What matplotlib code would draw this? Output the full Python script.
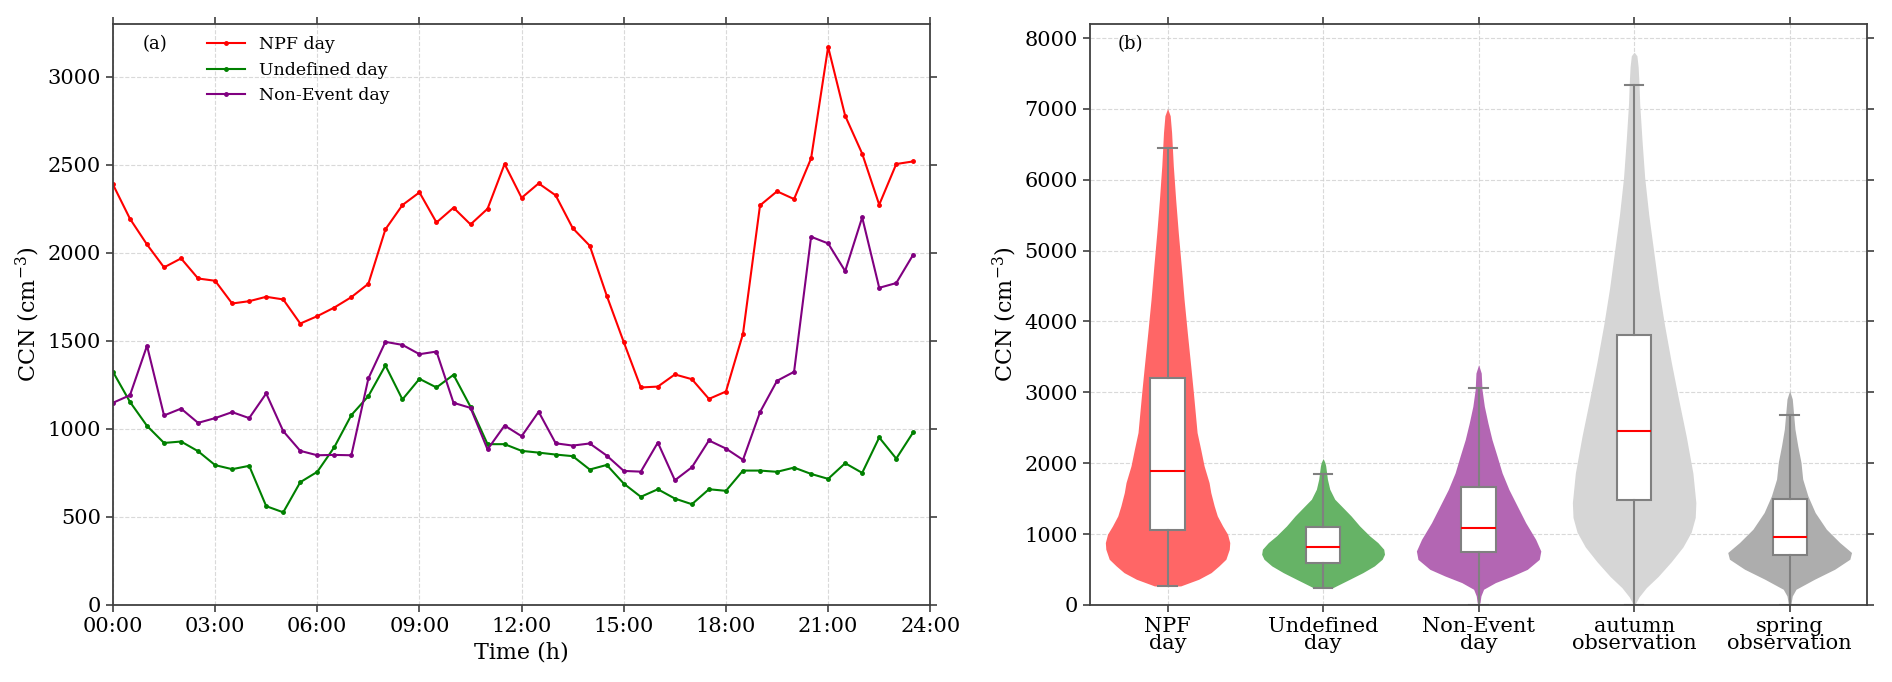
import numpy as np
import matplotlib
matplotlib.use("Agg")
import matplotlib.pyplot as plt

plt.rcParams['font.family'] = 'DejaVu Serif'
plt.rcParams['mathtext.fontset'] = 'dejavuserif'

# (a) diurnal CCN, half-hour steps
ore = np.arange(0, 24, 0.5)
npf_day = [2388, 2193, 2047, 1917, 1968, 1854,
           1841, 1712, 1725, 1750, 1735, 1598,
           1640, 1689, 1748, 1824, 2133, 2271,
           2343, 2172, 2256, 2161, 2250, 2504,
           2312, 2394, 2326, 2140, 2040, 1756,
           1492, 1235, 1240, 1309, 1282, 1170,
           1212, 1540, 2269, 2349, 2305, 2536,
           3169, 2778, 2563, 2273, 2504, 2519]
undefined_day = [1324, 1153, 1017, 920, 928, 873,
                 794, 771, 790, 561, 526, 697,
                 756, 896, 1078, 1186, 1360, 1167,
                 1284, 1235, 1307, 1125, 913, 913,
                 875, 865, 854, 845, 769, 795,
                 689, 614, 657, 604, 572, 657,
                 648, 763, 763, 756, 780, 744,
                 716, 805, 750, 951, 831, 981]
non_event_day = [1148, 1191, 1472, 1076, 1115, 1034,
                 1061, 1095, 1061, 1201, 987, 875,
                 850, 852, 850, 1286, 1494, 1477,
                 1424, 1439, 1148, 1119, 883, 1019,
                 958, 1097, 918, 905, 917, 848,
                 761, 757, 922, 708, 782, 934,
                 888, 824, 1095, 1273, 1324, 2091,
                 2053, 1896, 2201, 1801, 1828, 1990]

# (b) violin outlines: CCN level and half width (category units)
categorie = ["NPF\nday", "Undefined\nday", "Non-Event\nday", "autumn\nobservation", "spring\nobservation"]
colori_violini = ['#ff6666', '#66b366', '#b366b3', '#d6d6d6', '#adadad']

npf_y = [268, 362, 456, 550, 645, 786, 880, 998, 1115, 1256, 1398, 1586, 1727, 1962,
         2198, 2433, 2668, 2998, 3374, 3845, 4315, 4786, 5256, 5727, 6198, 6668, 6904, 7005]
npf_w = [0.084, 0.20, 0.28, 0.33, 0.375, 0.397, 0.40, 0.386, 0.354, 0.32, 0.30, 0.278, 0.267, 0.235,
         0.213, 0.19, 0.18, 0.166, 0.149, 0.127, 0.106, 0.088, 0.069, 0.052, 0.037, 0.026, 0.017, 0.0]
und_y = [240, 268, 362, 456, 551, 645, 715, 786, 880, 974, 1115, 1256, 1398, 1492, 1633, 1774, 1962, 2009, 2066]
und_w = [0.06, 0.085, 0.171, 0.256, 0.33, 0.38, 0.395, 0.39, 0.352, 0.30, 0.235, 0.18, 0.117, 0.075,
         0.043, 0.028, 0.017, 0.012, 0.0]
non_y = [0, 33, 127, 221, 315, 408, 502, 643, 761, 925, 1160, 1394, 1629, 1864, 2099, 2333, 2568,
         2803, 3038, 3272, 3390]
non_w = [0.0, 0.009, 0.015, 0.032, 0.108, 0.216, 0.313, 0.39, 0.40, 0.367, 0.303, 0.249, 0.195, 0.151,
         0.119, 0.086, 0.06, 0.037, 0.022, 0.017, 0.0]
aut_y = [0, 115, 245, 401, 610, 818, 1027, 1235, 1443, 1860, 2381, 2903, 3424, 3945, 4466, 4987,
         5508, 6029, 6550, 7071, 7332, 7592, 7750, 7801]
aut_w = [0.004, 0.032, 0.079, 0.154, 0.239, 0.314, 0.367, 0.393, 0.397, 0.378, 0.335, 0.286, 0.239,
         0.196, 0.158, 0.126, 0.094, 0.068, 0.051, 0.036, 0.032, 0.026, 0.018, 0.0]
spr_y = [9, 127, 221, 363, 504, 645, 740, 881, 1069, 1304, 1540, 1776, 2011, 2247, 2482, 2906, 3024]
spr_w = [0.008, 0.017, 0.041, 0.16, 0.29, 0.387, 0.398, 0.322, 0.236, 0.164, 0.117, 0.084, 0.073,
         0.052, 0.034, 0.017, 0.0]

# box stats: whisker low, q1, median, q3, whisker high
whis_lo = [268, 240, 0, 0, 0]
q1 = [1054, 593, 751, 1475, 702]
mediane = [1896, 814, 1092, 2450, 965]
q3 = [3205, 1101, 1671, 3812, 1488]
whis_hi = [6442, 1849, 3060, 7340, 2685]

profili = [(npf_y, npf_w), (und_y, und_w), (non_y, non_w), (aut_y, aut_w), (spr_y, spr_w)]

fig = plt.figure(figsize=(18.92, 6.82), dpi=100)
ax1 = fig.add_axes([0.0597, 0.113, 0.432, 0.852])
ax2 = fig.add_axes([0.576, 0.113, 0.411, 0.852])

def stile_assi(ax):
    ax.set_axisbelow(True)
    ax.grid(True, linestyle='--', color='#d0d0d0', linewidth=0.8, alpha=0.8)
    for s in ax.spines.values():
        s.set_color('#404040')
        s.set_linewidth(1.3)
    ax.tick_params(direction='out', top=True, right=True, labelsize=15,
                   length=5, width=1.2, color='#404040')

# pannello (a)
ax1.plot(ore, npf_day, color='red', marker='o', markersize=2.5, linewidth=1.5, label='NPF day')
ax1.plot(ore, undefined_day, color='green', marker='o', markersize=2.5, linewidth=1.5, label='Undefined day')
ax1.plot(ore, non_event_day, color='purple', marker='o', markersize=2.5, linewidth=1.5, label='Non-Event day')
ax1.set_xlim(0, 24)
ax1.set_ylim(0, 3300)
ax1.set_xticks(np.arange(0, 25, 3))
ax1.set_xticklabels(["%02d:00" % h for h in range(0, 25, 3)])
ax1.set_yticks(np.arange(0, 3001, 500))
ax1.set_xlabel("Time (h)", fontsize=16)
ax1.set_ylabel("CCN (cm$^{-3}$)", fontsize=16)
stile_assi(ax1)
ax1.legend(loc='upper left', bbox_to_anchor=(0.1, 1.0), frameon=False, fontsize=12.5,
           handlelength=2.2, borderaxespad=0.3)
ax1.text(0.036, 0.966, "(a)", transform=ax1.transAxes, fontsize=13, va='center')

# pannello (b)
for i, (py, pw) in enumerate(profili):
    py = np.array(py)
    pw = np.array(pw)
    ax2.fill_betweenx(py, i - pw, i + pw, color=colori_violini[i], linewidth=0, zorder=1)

stats = []
for i in range(len(categorie)):
    stats.append({'whislo': whis_lo[i], 'q1': q1[i], 'med': mediane[i], 'q3': q3[i],
                  'whishi': whis_hi[i], 'fliers': []})
ax2.bxp(stats, positions=range(len(categorie)), widths=0.22, patch_artist=True,
        showfliers=False, capwidths=0.12,
        boxprops=dict(facecolor='white', edgecolor='gray', linewidth=1.5),
        whiskerprops=dict(color='gray', linewidth=1.5),
        capprops=dict(color='gray', linewidth=1.5),
        medianprops=dict(color='red', linewidth=1.5))
ax2.set_xlim(-0.5, 4.5)
ax2.set_ylim(0, 8200)
ax2.set_yticks(np.arange(0, 8001, 1000))
ax2.set_xticks(range(len(categorie)))
ax2.set_xticklabels(categorie, linespacing=0.9)
ax2.set_ylabel("CCN (cm$^{-3}$)", fontsize=16)
stile_assi(ax2)
ax2.text(0.036, 0.966, "(b)", transform=ax2.transAxes, fontsize=13, va='center')

plt.savefig("out.png", dpi=100)
plt.close()
